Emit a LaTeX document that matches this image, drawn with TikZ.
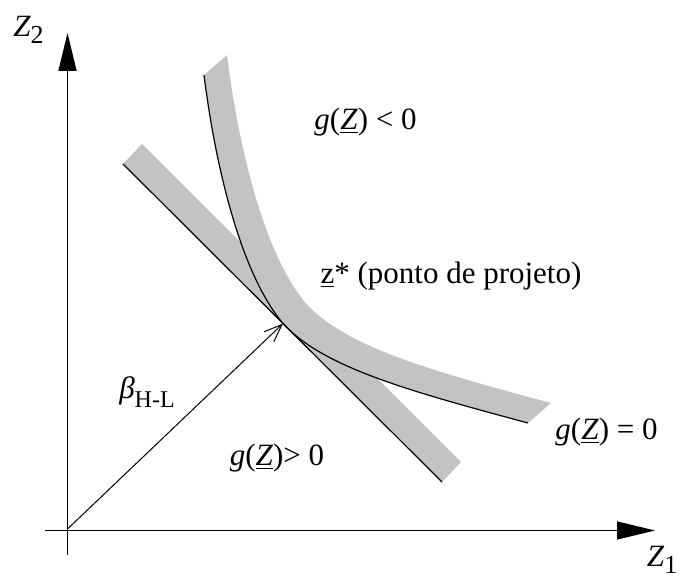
\documentclass[tikz,border=0pt]{standalone}
\usepackage{fontspec}
\setmainfont{Liberation Serif}
\usetikzlibrary{arrows.meta}
\definecolor{bandgray}{RGB}{195,195,195}
\tikzset{
  axis/.style={line width=0.7pt,-{Triangle[length=19pt,width=9pt]}},
  bdry/.style={line width=0.6pt},
  lbl/.style={font=\fontsize{15.5}{18}\selectfont, inner sep=0pt},
  betaarrow/.style={line width=0.5pt,-{Straight Barb[length=9pt,width=7pt]}}
}
\begin{document}
\begin{tikzpicture}[x=50pt,y=-50pt]
\useasboundingbox (0,0) rectangle (6.8,5.76);
% coordinates
\coordinate (O) at (0.675,5.29);
\coordinate (ybot) at (0.675,5.55);
\coordinate (ytip) at (0.675,0.33);
\coordinate (xleft) at (0.45,5.305);
\coordinate (xtip) at (6.55,5.305);
\coordinate (L0) at (1.23,1.64);
\coordinate (L1) at (4.42,4.82);
\coordinate (C0) at (2.04,0.75);
\coordinate (T) at (2.83,3.235);
\coordinate (C1) at (5.28,4.23);
% gray bands
\fill[bandgray] (L0) -- (L1) -- ++(0.19,-0.20) -- (1.42,1.44) -- cycle;
\fill[bandgray] (C0) .. controls (2.165,1.742) and (2.426,2.756) .. (T)
   .. controls (3.234,3.679) and (4.122,3.918) .. (C1)
   -- (5.51,4.03) .. controls (4.352,3.718) and (3.464,3.479) .. (3.06,3.035)
   .. controls (2.656,2.556) and (2.395,1.542) .. (2.27,0.55) -- cycle;
% boundary lines
\draw[bdry] (L0) -- (L1);
\draw[bdry] (C0) .. controls (2.165,1.742) and (2.426,2.756) .. (T)
   .. controls (3.234,3.679) and (4.122,3.918) .. (C1);
% axes
\draw[axis] (ybot) -- (ytip);
\draw[axis] (xleft) -- (xtip);
% beta arrow
\draw[betaarrow] (O) -- (T);
% labels
\node[lbl] (z2) at (0.285,0.30) {\textit{Z}\raisebox{-0.45ex}{\fontsize{13}{14}\selectfont 2}};
\node[lbl] (z1) at (6.62,5.60) {\textit{Z}\raisebox{-0.45ex}{\fontsize{13}{14}\selectfont 1}};
\node[lbl] (gneg) at (3.655,1.22) {\textit{g}(\underline{\textit{Z}}) \textless{} 0};
\node[lbl] (zstar) at (4.51,2.76) {\underline{z}* (ponto de projeto)};
\node[lbl] (beta) at (1.47,3.92) {\textit{β}\raisebox{-0.6ex}{\fontsize{12}{13}\selectfont H-L}};
\node[lbl] (gpos) at (2.77,4.58) {\textit{g}(\underline{\textit{Z}})\textgreater{} 0};
\node[lbl] (gzero) at (6.065,4.32) {\textit{g}(\underline{\textit{Z}}) = 0};
\end{tikzpicture}
\end{document}
